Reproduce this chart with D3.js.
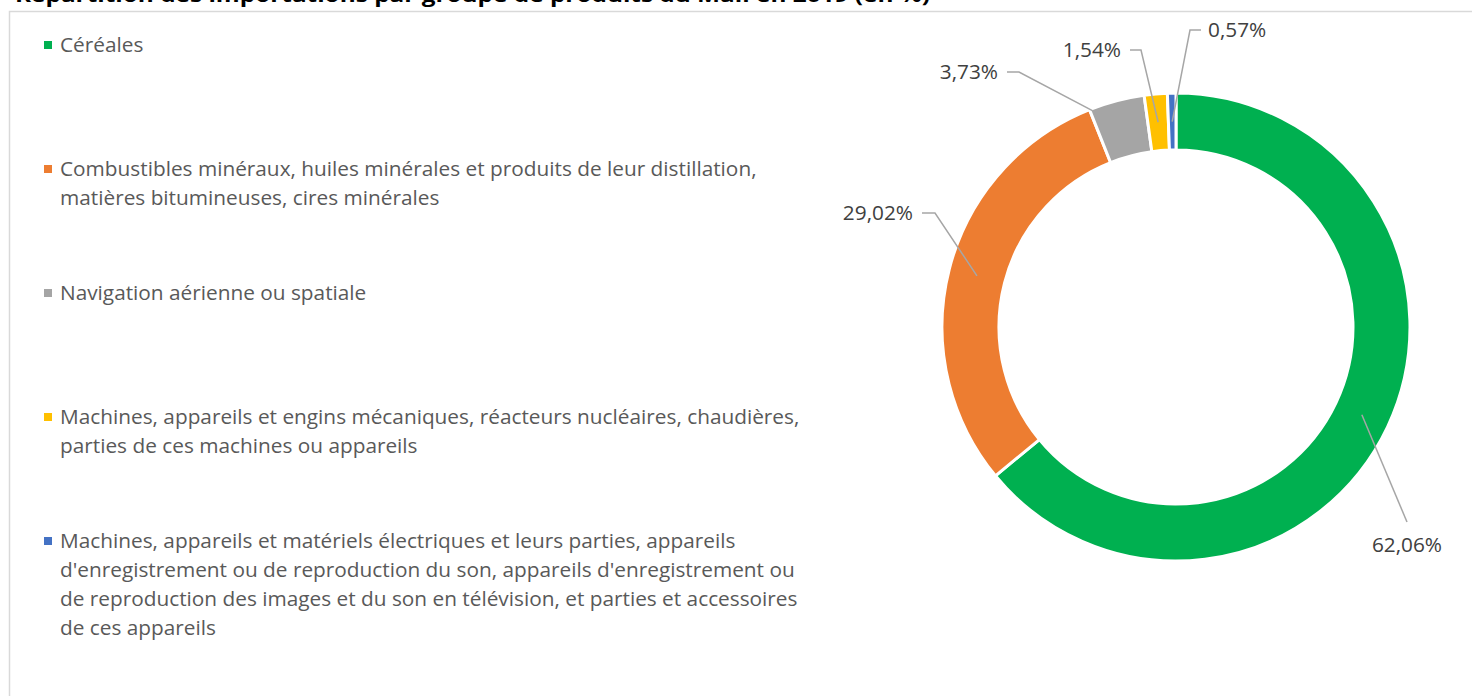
<!DOCTYPE html>
<html><head><meta charset="utf-8">
<script src="https://cdn.jsdelivr.net/npm/d3@7"></script>
<style>
html,body{margin:0;padding:0;background:#fff;overflow:hidden}
svg{display:block}
</style></head>
<body>
<svg id="chart" width="1472" height="696"></svg>
<script>
const title = "Répartition des importations par groupe de produits du Mali en 2019 (en %)";
const categories = [
  "Céréales",
  "Combustibles minéraux, huiles minérales et produits de leur distillation, matières bitumineuses, cires minérales",
  "Navigation aérienne ou spatiale",
  "Machines, appareils et engins mécaniques, réacteurs nucléaires, chaudières, parties de ces machines ou appareils",
  "Machines, appareils et matériels électriques et leurs parties, appareils d'enregistrement ou de reproduction du son, appareils d'enregistrement ou de reproduction des images et du son en télévision, et parties et accessoires de ces appareils"
];
const legendLines = [
  ["Céréales"],
  ["Combustibles minéraux, huiles minérales et produits de leur distillation,", "matières bitumineuses, cires minérales"],
  ["Navigation aérienne ou spatiale"],
  ["Machines, appareils et engins mécaniques, réacteurs nucléaires, chaudières,", "parties de ces machines ou appareils"],
  ["Machines, appareils et matériels électriques et leurs parties, appareils", "d'enregistrement ou de reproduction du son, appareils d'enregistrement ou", "de reproduction des images et du son en télévision, et parties et accessoires", "de ces appareils"]
];
const values = [62.06, 29.02, 3.73, 1.54, 0.57];
const valueLabels = ["62,06%", "29,02%", "3,73%", "1,54%", "0,57%"];
const colors = ["#00B050", "#ED7D31", "#A5A5A5", "#FFC000", "#4472C4"];

// label layout (pixel offsets relative to donut centre)
const labelLayout = [
  {elbow:[231,195], mode:"below", anchor:"centroid"},
  {elbow:[-241,-114], hlen:-13, mode:"left", anchor:"centroid"},
  {elbow:[-157,-255], hlen:-12, mode:"left", anchor:"outerStart"},
  {elbow:[-35,-277], hlen:-11, mode:"left", anchor:"centroid"},
  {elbow:[14,-297], hlen:11, mode:"right", anchor:"centroid"}
];

const svg = d3.select("#chart");
const FONT = "'Open Sans', 'Segoe UI', sans-serif";

// frame
svg.append("rect").attr("x",9.5).attr("y",11.5).attr("width",1600).attr("height",800)
  .attr("fill","#fff").attr("stroke","#d9d9d9").attr("stroke-width",1.5);

// title (cropped at top like the reference)
const t = svg.append("text").attr("x",15).attr("y",1.5)
  .attr("font-family",FONT).attr("font-weight","bold").attr("font-size",20)
  .attr("fill","#000").text(title);
t.attr("textLength", 915).attr("lengthAdjust","spacingAndGlyphs");

// legend
const probe = svg.append("text").attr("font-family",FONT).attr("font-size",20).text(legendLines[1][0]);
const w20 = probe.node().getComputedTextLength();
probe.remove();
const legendFont = 20 * 697 / w20;
const legY = d3.scalePoint().domain(d3.range(categories.length)).range([45, 541]);
const lg = svg.append("g");
categories.forEach((c,i)=>{
  const y0 = legY(i);
  lg.append("rect").attr("x",44).attr("y",y0-4).attr("width",8).attr("height",8).attr("fill",colors[i]);
  const tx = lg.append("text").attr("font-family",FONT).attr("font-size",legendFont).attr("fill","#595959");
  legendLines[i].forEach((ln,j)=>{
    tx.append("tspan").attr("x",60).attr("y",y0 + j*29).attr("dy","0.35em").text(ln);
  });
});

// donut
const cx = 1176, cy = 327, R = 234, r = 177;
const pie = d3.pie().sort(null).value(d=>d);
const arcs = pie(values);
const arc = d3.arc().outerRadius(R).innerRadius(r);
const g = svg.append("g").attr("transform",`translate(${cx},${cy})`);
g.selectAll("path").data(arcs).join("path")
  .attr("d",arc).attr("fill",(d,i)=>colors[i])
  .attr("stroke","#fff").attr("stroke-width",3).attr("stroke-linejoin","miter");

// leader lines and labels
const midArc = d3.arc().outerRadius((R+r)/2).innerRadius((R+r)/2);
arcs.forEach((d,i)=>{
  const L = labelLayout[i];
  let a;
  if (L.anchor === "outerStart") {
    const ang = d.startAngle + 0.01;
    a = [(R-2)*Math.sin(ang), -(R-2)*Math.cos(ang)];
  } else {
    a = midArc.centroid(d);
  }
  const pts = [a, L.elbow];
  if (L.mode !== "below") pts.push([L.elbow[0]+L.hlen, L.elbow[1]]);
  g.append("path").attr("d", d3.line()(pts)).attr("fill","none")
    .attr("stroke","#a6a6a6").attr("stroke-width",1.5);
  const lab = g.append("text").attr("font-family",FONT).attr("font-size",legendFont)
    .attr("fill","#404040").text(valueLabels[i]);
  if (L.mode === "below") {
    lab.attr("x",L.elbow[0]).attr("y",L.elbow[1]+23).attr("dy","0.35em").attr("text-anchor","middle");
  } else if (L.mode === "left") {
    lab.attr("x",L.elbow[0]+L.hlen-9).attr("y",L.elbow[1]).attr("dy","0.35em").attr("text-anchor","end");
  } else {
    lab.attr("x",L.elbow[0]+L.hlen+7).attr("y",L.elbow[1]).attr("dy","0.35em").attr("text-anchor","start");
  }
});
</script>
</body></html>
